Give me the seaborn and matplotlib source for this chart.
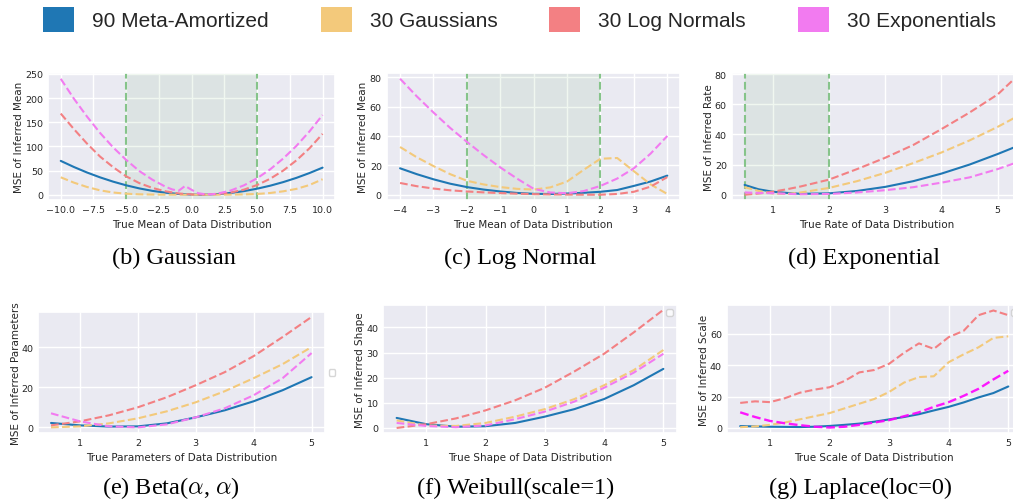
import matplotlib
matplotlib.use("Agg")
import matplotlib.pyplot as plt
import seaborn as sns
from matplotlib.patches import Patch

# ---------------- data ----------------
series_labels = ["90 Meta-Amortized", "30 Gaussians", "30 Log Normals", "30 Exponentials"]

# (b) Gaussian
x_gauss = [-10, -9, -8, -7, -6, -5, -4, -3, -2, -1, 0, 1, 2, 3, 4, 5, 6, 7, 8, 9, 10]
gauss_meta = [70.0, 57.4, 46.0, 35.9, 27.0, 19.4, 13.0, 7.9, 4.1, 1.5, 0.2, 0.1, 1.3, 3.7, 7.4, 12.4, 18.6, 26.1, 34.8, 44.8, 56.0]
gauss_gauss = [36, 25, 16, 9, 4.5, 2, 0.8, 0.3, 0.1, 0, 0, 0, 0, 0.2, 0.6, 1.5, 3.5, 7, 12, 20, 32]
gauss_lognorm = [168, 136, 106, 79, 57, 38, 24, 14, 7, 2.5, 0.5, 0.5, 1.5, 4.5, 10.5, 20, 33, 50, 71, 96, 126]
x_gauss_exp = [-10, -9, -8, -7, -6, -5, -4, -3, -2, -1.5, -1, -0.5, 0, 0.5, 1, 1.5, 2, 3, 4, 5, 6, 7, 8, 9, 10]
gauss_exp = [240, 199, 162, 128, 98, 72, 49, 31, 16.5, 11, 8, 18, 10, 3, 1, 0.8, 2.3, 8.8, 19.4, 34, 52.5, 75, 101, 131, 165]

# (c) Log Normal
x_ln = [-4, -3.5, -3, -2.5, -2, -1.5, -1, -0.5, 0, 0.5, 1, 1.5, 2, 2.5, 3, 3.5, 4]
ln_meta = [18, 14, 10.5, 7.5, 5.2, 3.5, 2.2, 1.2, 0.6, 0.5, 0.8, 1.3, 2, 3.2, 6, 9, 13]
ln_gauss = [32.5, 25.5, 19.5, 14, 9.5, 7, 5.2, 4, 3.5, 5, 9, 17, 24.5, 25, 16, 7, 0.5]
ln_lognorm = [8, 5.8, 4.2, 3, 2.2, 1.6, 1.1, 0.7, 0.4, 0.2, 0.1, 0, 0, 0.5, 2, 5.5, 12]
ln_exp = [79, 67, 56, 45.5, 36, 27, 18.6, 11, 4, 1.5, 1, 2.5, 6, 11, 18, 28, 40]

# (d) Exponential
x_exp = [0.5, 0.75, 1, 1.25, 1.5, 2, 2.5, 3, 3.5, 4, 4.5, 5, 5.5]
exp_meta = [6.5, 3.6, 2, 1.2, 0.6, 0.9, 2.5, 5.2, 9, 14, 20, 27, 34.5]
exp_gauss = [5, 2.5, 0.8, 0.5, 1.5, 4.5, 9, 14.5, 21, 28, 36, 45, 55]
exp_lognorm = [0, 0.8, 2, 3.6, 5.5, 10, 17, 24.5, 33, 43.5, 54.5, 66.5, 84]
exp_exp = [1.5, 1.2, 1, 0.6, 0.3, 0.5, 1.5, 3, 5, 8, 11.5, 17, 23.5]

# (e) Beta(alpha, alpha)
x_beta = [0.5, 1, 1.5, 2, 2.5, 3, 3.5, 4, 4.5, 5]
beta_meta = [2.2, 1, 0.4, 0.5, 2, 5, 8.5, 13, 18.5, 25]
beta_gauss = [0, 0.5, 2, 4.5, 8, 12.5, 18, 24.5, 31.5, 40]
beta_lognorm = [1, 3, 6, 10, 15, 21, 27.5, 35.5, 45, 55]
beta_exp = [7, 3, 0.5, 0, 1.5, 5, 9.5, 16, 24.5, 37]

# (f) Weibull(scale=1)
x_weib = [0.5, 1, 1.5, 2, 2.5, 3, 3.5, 4, 4.5, 5]
weib_meta = [4, 1.5, 0.5, 0.7, 2, 4.5, 7.5, 11.5, 17, 23.5]
weib_gauss = [3, 1, 0.8, 2, 4.5, 7.5, 11.5, 17, 23, 31]
weib_lognorm = [0, 1.5, 3.8, 7, 11, 16, 22.5, 29.5, 38, 47]
weib_exp = [2, 0.8, 0.3, 1, 3.5, 6.5, 10.5, 16, 22, 29.5]

# (g) Laplace(loc=0)
x_lap = [0.5, 0.75, 1, 1.25, 1.5, 1.75, 2, 2.25, 2.5, 2.75, 3, 3.25, 3.5, 3.75, 4, 4.25, 4.5, 4.75, 5]
lap_meta = [1.2, 1, 0.8, 0.7, 0.6, 0.8, 1.3, 2, 2.8, 4, 5.5, 7, 8.8, 11.2, 13.5, 16.3, 19.5, 22.3, 26.5]
lap_gauss = [0.5, 1, 2, 3.5, 5.5, 7.5, 9.5, 12.5, 15.5, 18.5, 23, 29, 32.5, 33, 42, 47, 51.5, 57.5, 58.5]
lap_lognorm = [16, 17, 16.5, 19, 22.5, 24.5, 26, 30, 35.5, 37, 41, 48, 54, 50.5, 58, 62, 72, 75, 72]
lap_exp = [10, 7, 4.5, 3, 1.8, 0.8, 0.3, 0.8, 2, 3.5, 5, 7.5, 10, 13.5, 16.5, 20.5, 25, 31, 36.5]

# ---------------- style ----------------
C_META = "#1f77b4"
C_GAUSS = "#f3c97b"
C_LOGN = "#f38083"
C_EXP = "#f27bf0"
C_GREEN = "#86c48a"

sns.set_theme(style="darkgrid")
plt.rcParams.update({
    "xtick.labelsize": 6.8,
    "ytick.labelsize": 6.8,
    "axes.labelsize": 7.5,
    "xtick.major.size": 0,
    "ytick.major.size": 0,
    "xtick.major.pad": 3.5,
    "ytick.major.pad": 3.5,
    "axes.labelpad": 4.0,
    "grid.linewidth": 1.0,
    "mathtext.fontset": "cm",
})

W, H = 1013, 502
fig = plt.figure(figsize=(W / 100, H / 100), dpi=100)


def add_ax(l, r, t, b):
    return fig.add_axes([l / W, 1 - b / H, (r - l) / W, (b - t) / H])


def draw(ax, x, meta, gauss, lognorm, exp, xlabel, ylabel, xlim, ylim, xticks, yticks,
         ylab_x, span=None, x_e=None, exp_color=C_EXP, exp_alpha=1.0, exp_lw=1.5):
    if span is not None:
        ax.axvspan(span[0], span[1], color="green", alpha=0.06, lw=0)
        for v in span:
            ax.axvline(v, color=C_GREEN, ls="--", lw=1.5)
    sns.lineplot(x=x, y=meta, ax=ax, color=C_META, linewidth=1.5)
    sns.lineplot(x=x, y=gauss, ax=ax, color=C_GAUSS, linewidth=1.5, linestyle="--")
    sns.lineplot(x=x, y=lognorm, ax=ax, color=C_LOGN, linewidth=1.5, linestyle="--")
    sns.lineplot(x=(x_e if x_e is not None else x), y=exp, ax=ax, color=exp_color,
                 linewidth=exp_lw, linestyle="--", alpha=exp_alpha)
    ax.set_xlim(*xlim)
    ax.set_ylim(*ylim)
    ax.set_xticks(xticks)
    ax.set_yticks(yticks)
    ax.set_xlabel(xlabel)
    ax.set_ylabel(ylabel)
    ax.yaxis.set_label_coords(ylab_x, 0.5)


ax_b = add_ax(48.3, 335, 74, 200.7)
draw(ax_b, x_gauss, gauss_meta, gauss_gauss, gauss_lognorm, gauss_exp,
     "True Mean of Data Distribution", "MSE of Inferred Mean",
     (-10.95, 10.95), (-10.4, 252), [-10, -7.5, -5, -2.5, 0, 2.5, 5, 7.5, 10],
     [0, 50, 100, 150, 200, 250], -0.085, span=(-5, 5), x_e=x_gauss_exp)

ax_c = add_ax(386.7, 680, 74, 200.7)
draw(ax_c, x_ln, ln_meta, ln_gauss, ln_lognorm, ln_exp,
     "True Mean of Data Distribution", "MSE of Inferred Mean",
     (-4.4, 4.38), (-3.4, 82.9), [-4, -3, -2, -1, 0, 1, 2, 3, 4],
     [0, 20, 40, 60, 80], -0.065, span=(-2, 2))

d_lo, d_hi = 0.271, 5.43
ax_d = add_ax(731.7, 731.7 + (d_hi - d_lo) * 56.25, 74, 200.7)
draw(ax_d, x_exp, exp_meta, exp_gauss, exp_lognorm, exp_exp,
     "True Rate of Data Distribution", "MSE of Inferred Rate",
     (d_lo, d_hi), (-3.3, 80.7), [1, 2, 3, 4, 5],
     [0, 20, 40, 60, 80], -0.060, span=(0.5, 2))

ax_e = add_ax(38, 324.6, 313.3, 434)
draw(ax_e, x_beta, beta_meta, beta_gauss, beta_lognorm, beta_exp,
     "True Parameters of Data Distribution", "MSE of Inferred Parameters",
     (0.275, 5.225), (-2.8, 57.3), [1, 2, 3, 4, 5], [0, 20, 40], -0.059)

ax_f = add_ax(383.3, 676.7, 306, 434)
draw(ax_f, x_weib, weib_meta, weib_gauss, weib_lognorm, weib_exp,
     "True Shape of Data Distribution", "MSE of Inferred Shape",
     (0.275, 5.225), (-2.0, 48.9), [1, 2, 3, 4, 5], [0, 10, 20, 30, 40], -0.061)

ax_g = add_ax(726.8, 1021.7, 306, 434)
draw(ax_g, x_lap, lap_meta, lap_gauss, lap_lognorm, lap_exp,
     "True Scale of Data Distribution", "MSE of Inferred Scale",
     (0.275, 5.225), (-3.2, 78.5), [1, 2, 3, 4, 5], [0, 20, 40, 60], -0.059,
     exp_color="#ff00ff", exp_alpha=0.9, exp_lw=1.7)

# empty legend boxes (as in the original figure)
for ax, kw in [(ax_e, dict(loc="center left", bbox_to_anchor=(1.0, 0.5))),
               (ax_f, dict(loc="upper right")),
               (ax_g, dict(loc="upper right"))]:
    ax.legend(handles=[], fontsize=6, frameon=True, facecolor="white",
              edgecolor="0.8", framealpha=0.8, **kw)

# captions
captions = [
    (174, 264, "(b) Gaussian"),
    (520, 264, "(c) Log Normal"),
    (864, 264, "(d) Exponential"),
    (171, 494, "(e) Beta($\\alpha$, $\\alpha$)"),
    (516, 494, "(f) Weibull(scale=1)"),
    (860, 494, "(g) Laplace(loc=0)"),
]
for cx, cy, txt in captions:
    fig.text(cx / W, 1 - cy / H, txt, ha="center", va="baseline",
             family="Liberation Serif", fontsize=17.5, color="black")

# shared legend
handles = [Patch(facecolor=c, edgecolor="none") for c in [C_META, C_GAUSS, C_LOGN, C_EXP]]
fig.legend(handles=handles, labels=series_labels, loc="center",
           bbox_to_anchor=(519.5 / W, 1 - 20.5 / H), ncol=4, frameon=False,
           prop={"family": "Liberation Sans", "size": 15},
           handlelength=1.49, handleheight=1.49, handletextpad=0.86,
           columnspacing=2.5, borderpad=0, borderaxespad=0)

fig.savefig("out.png", dpi=100)
